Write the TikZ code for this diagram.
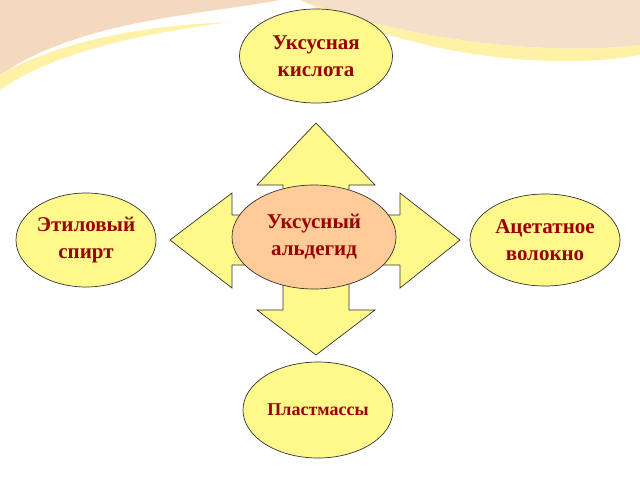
\documentclass[tikz,border=0pt]{standalone}
\usepackage{fontspec}
\setmainfont{Liberation Serif}
\usetikzlibrary{shapes.geometric}
\begin{document}
\begin{tikzpicture}[x=1pt,y=-1pt,
  oval/.style={ellipse,draw=black!80,line width=0.7pt,fill=yellow!45!white,
    minimum width=#1, align=center, font=\fontsize{21}{27}\selectfont\bfseries, text=red!60!black, inner sep=0pt},
  oval/.default=150pt]
\useasboundingbox (0,0) rectangle (640,480);
\fill[white] (0,0) rectangle (640,480);
% decorative swoosh
\fill[orange!40!brown!30!white] (0,0) -- (280,0) .. controls (200,15) and (80,20) .. (0,75) -- cycle;
\fill[orange!30!yellow!35!white] (0,75) .. controls (60,40) and (150,25) .. (230,22) .. controls (130,35) and (50,55) .. (0,90) -- cycle;
\fill[orange!35!brown!25!white] (300,0) -- (640,0) -- (640,45) .. controls (560,55) and (420,45) .. (300,0) -- cycle;
\fill[orange!30!yellow!35!white] (640,45) .. controls (560,55) and (420,45) .. (300,0) .. controls (420,60) and (560,70) .. (640,55) -- cycle;
% cross arrow
\draw[fill=yellow!45!white,draw=black!80,line width=0.7pt,line join=miter]
 (316,123)--(375,185)--(349,185)--(349,215)--(400,215)--(400,193)--(460,240)--(400,288)--(400,265)--(349,265)--(349,310)--(375,310)--(316,355)--(257,310)--(283,310)--(283,265)--(232,265)--(232,288)--(170,240)--(232,193)--(232,215)--(283,215)--(283,185)--(257,185)--cycle;
\node[oval=153pt,minimum height=94pt] (top) at (316,56) {Уксусная\\кислота};
\node[oval=140pt,minimum height=94pt] (left) at (86,240) {Этиловый\\спирт};
\node[oval=150pt,minimum height=92pt] (right) at (545,240) {Ацетатное\\волокно};
\node[oval=150pt,minimum height=96pt,font=\fontsize{18}{22}\selectfont\bfseries] (bot) at (318,410) {Пластмассы};
\node[oval=164pt,minimum height=104pt,fill=orange!40!white] (mid) at (314,237) {Уксусный\\альдегид};
\end{tikzpicture}
\end{document}
